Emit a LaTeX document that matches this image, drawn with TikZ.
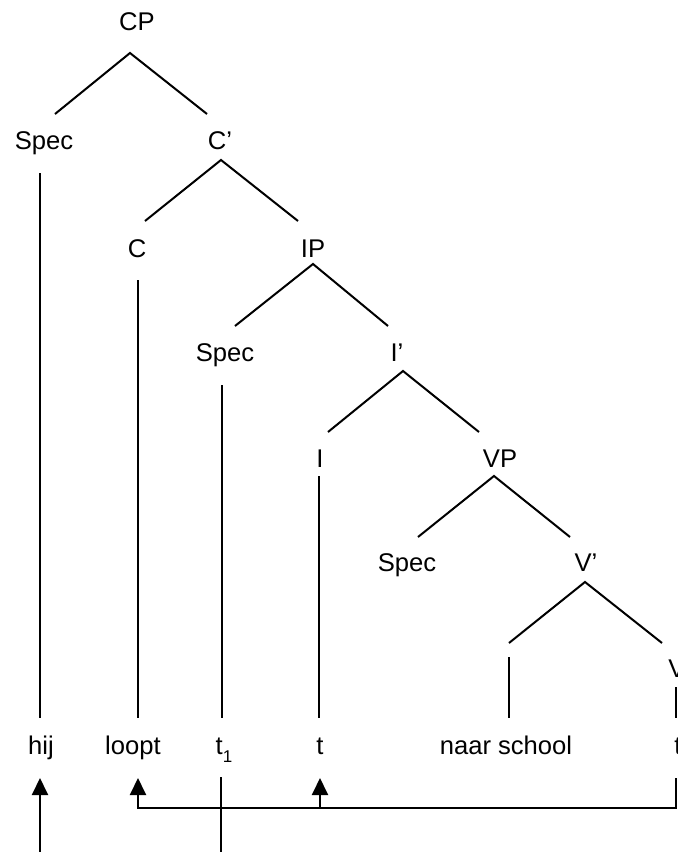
\documentclass[tikz,border=0pt]{standalone}
\usepackage{fontspec}
\setmainfont{Liberation Sans}
\usetikzlibrary{arrows.meta}
\begin{document}
\begin{tikzpicture}[x=0.5pt,y=-0.5pt,
  lbl/.style={anchor=base,inner sep=0pt,font=\fontsize{12.8}{15}\selectfont},
  br/.style={line width=1pt},
  mv/.style={line width=1pt,-{Triangle[width=8pt,length=8.5pt]}}]
\useasboundingbox (0,0) rectangle (677,852);
\clip (0,0) rectangle (677,852);
% labels
\node[lbl] (cp) at (137,30) {CP};
\node[lbl] (spec1) at (44,149) {Spec};
\node[lbl] (cbar) at (220,149) {C’};
\node[lbl] (c) at (137,257) {C};
\node[lbl] (ip) at (313,257) {IP};
\node[lbl] (spec2) at (225,361) {Spec};
\node[lbl] (ibar) at (397,361) {I’};
\node[lbl] (i) at (320,467) {I};
\node[lbl] (vp) at (500,467) {VP};
\node[lbl] (spec3) at (407,571) {Spec};
\node[lbl] (vbar) at (586,571) {V’};
\node[lbl] (v) at (677,677) {V};
\node[lbl] (hij) at (41,754) {hij};
\node[lbl] (loopt) at (133,754) {loopt};
\node[lbl] (t1) at (224,754) {t\raisebox{-4pt}{\fontsize{8.5}{9}\selectfont 1}};
\node[lbl] (t) at (320,754) {t};
\node[lbl] (naar) at (506,754) {naar school};
\node[lbl] (tv) at (678,754) {t};
% branch points
\coordinate (cpa) at (130,53);
\coordinate (cpl) at (55,114);
\coordinate (cpr) at (207,114);
\coordinate (cba) at (221,160);
\coordinate (cbl) at (145,221);
\coordinate (cbr) at (298,221);
\coordinate (ipa) at (313,264);
\coordinate (ipl) at (235,326);
\coordinate (ipr) at (388,326);
\coordinate (iba) at (403,371);
\coordinate (ibl) at (328,432);
\coordinate (ibr) at (479,432);
\coordinate (vpa) at (494,476);
\coordinate (vpl) at (418,537);
\coordinate (vpr) at (570,537);
\coordinate (vba) at (585,582);
\coordinate (vbl) at (509,643);
\coordinate (vbr) at (662,643);
% vertical line ends
\coordinate (s1t) at (40,173);   \coordinate (s1b) at (40,718);
\coordinate (ct) at (138,280);   \coordinate (cb) at (138,718);
\coordinate (s2t) at (222,385);  \coordinate (s2b) at (222,718);
\coordinate (it) at (319,476);   \coordinate (ib) at (319,718);
\coordinate (ppt) at (509,657);  \coordinate (ppb) at (509,718);
\coordinate (vt) at (676,687);   \coordinate (vb) at (676,718);
% tree branches
\draw[br] (cpl) -- (cpa) -- (cpr);
\draw[br] (cbl) -- (cba) -- (cbr);
\draw[br] (ipl) -- (ipa) -- (ipr);
\draw[br] (ibl) -- (iba) -- (ibr);
\draw[br] (vpl) -- (vpa) -- (vpr);
\draw[br] (vbl) -- (vba) -- (vbr);
\draw[br] (s1t) -- (s1b);
\draw[br] (ct) -- (cb);
\draw[br] (s2t) -- (s2b);
\draw[br] (it) -- (ib);
\draw[br] (ppt) -- (ppb);
\draw[br] (vt) -- (vb);
% movement arrows
\coordinate (hijtip) at (40,778);
\coordinate (hijfoot) at (40,870);
\coordinate (t1top) at (221,777);
\coordinate (t1foot) at (221,870);
\coordinate (looptip) at (138,778);
\coordinate (lcorner) at (138,808);
\coordinate (ttip) at (320,778);
\coordinate (tfoot) at (320,808);
\coordinate (rtop) at (676,778);
\coordinate (rcorner) at (676,808);
\draw[mv] (hijfoot) -- (hijtip);
\draw[br] (t1top) -- (t1foot);
\draw[mv] (rtop) -- (rcorner) -- (lcorner) -- (looptip);
\draw[mv] (tfoot) -- (ttip);
\end{tikzpicture}
\end{document}
